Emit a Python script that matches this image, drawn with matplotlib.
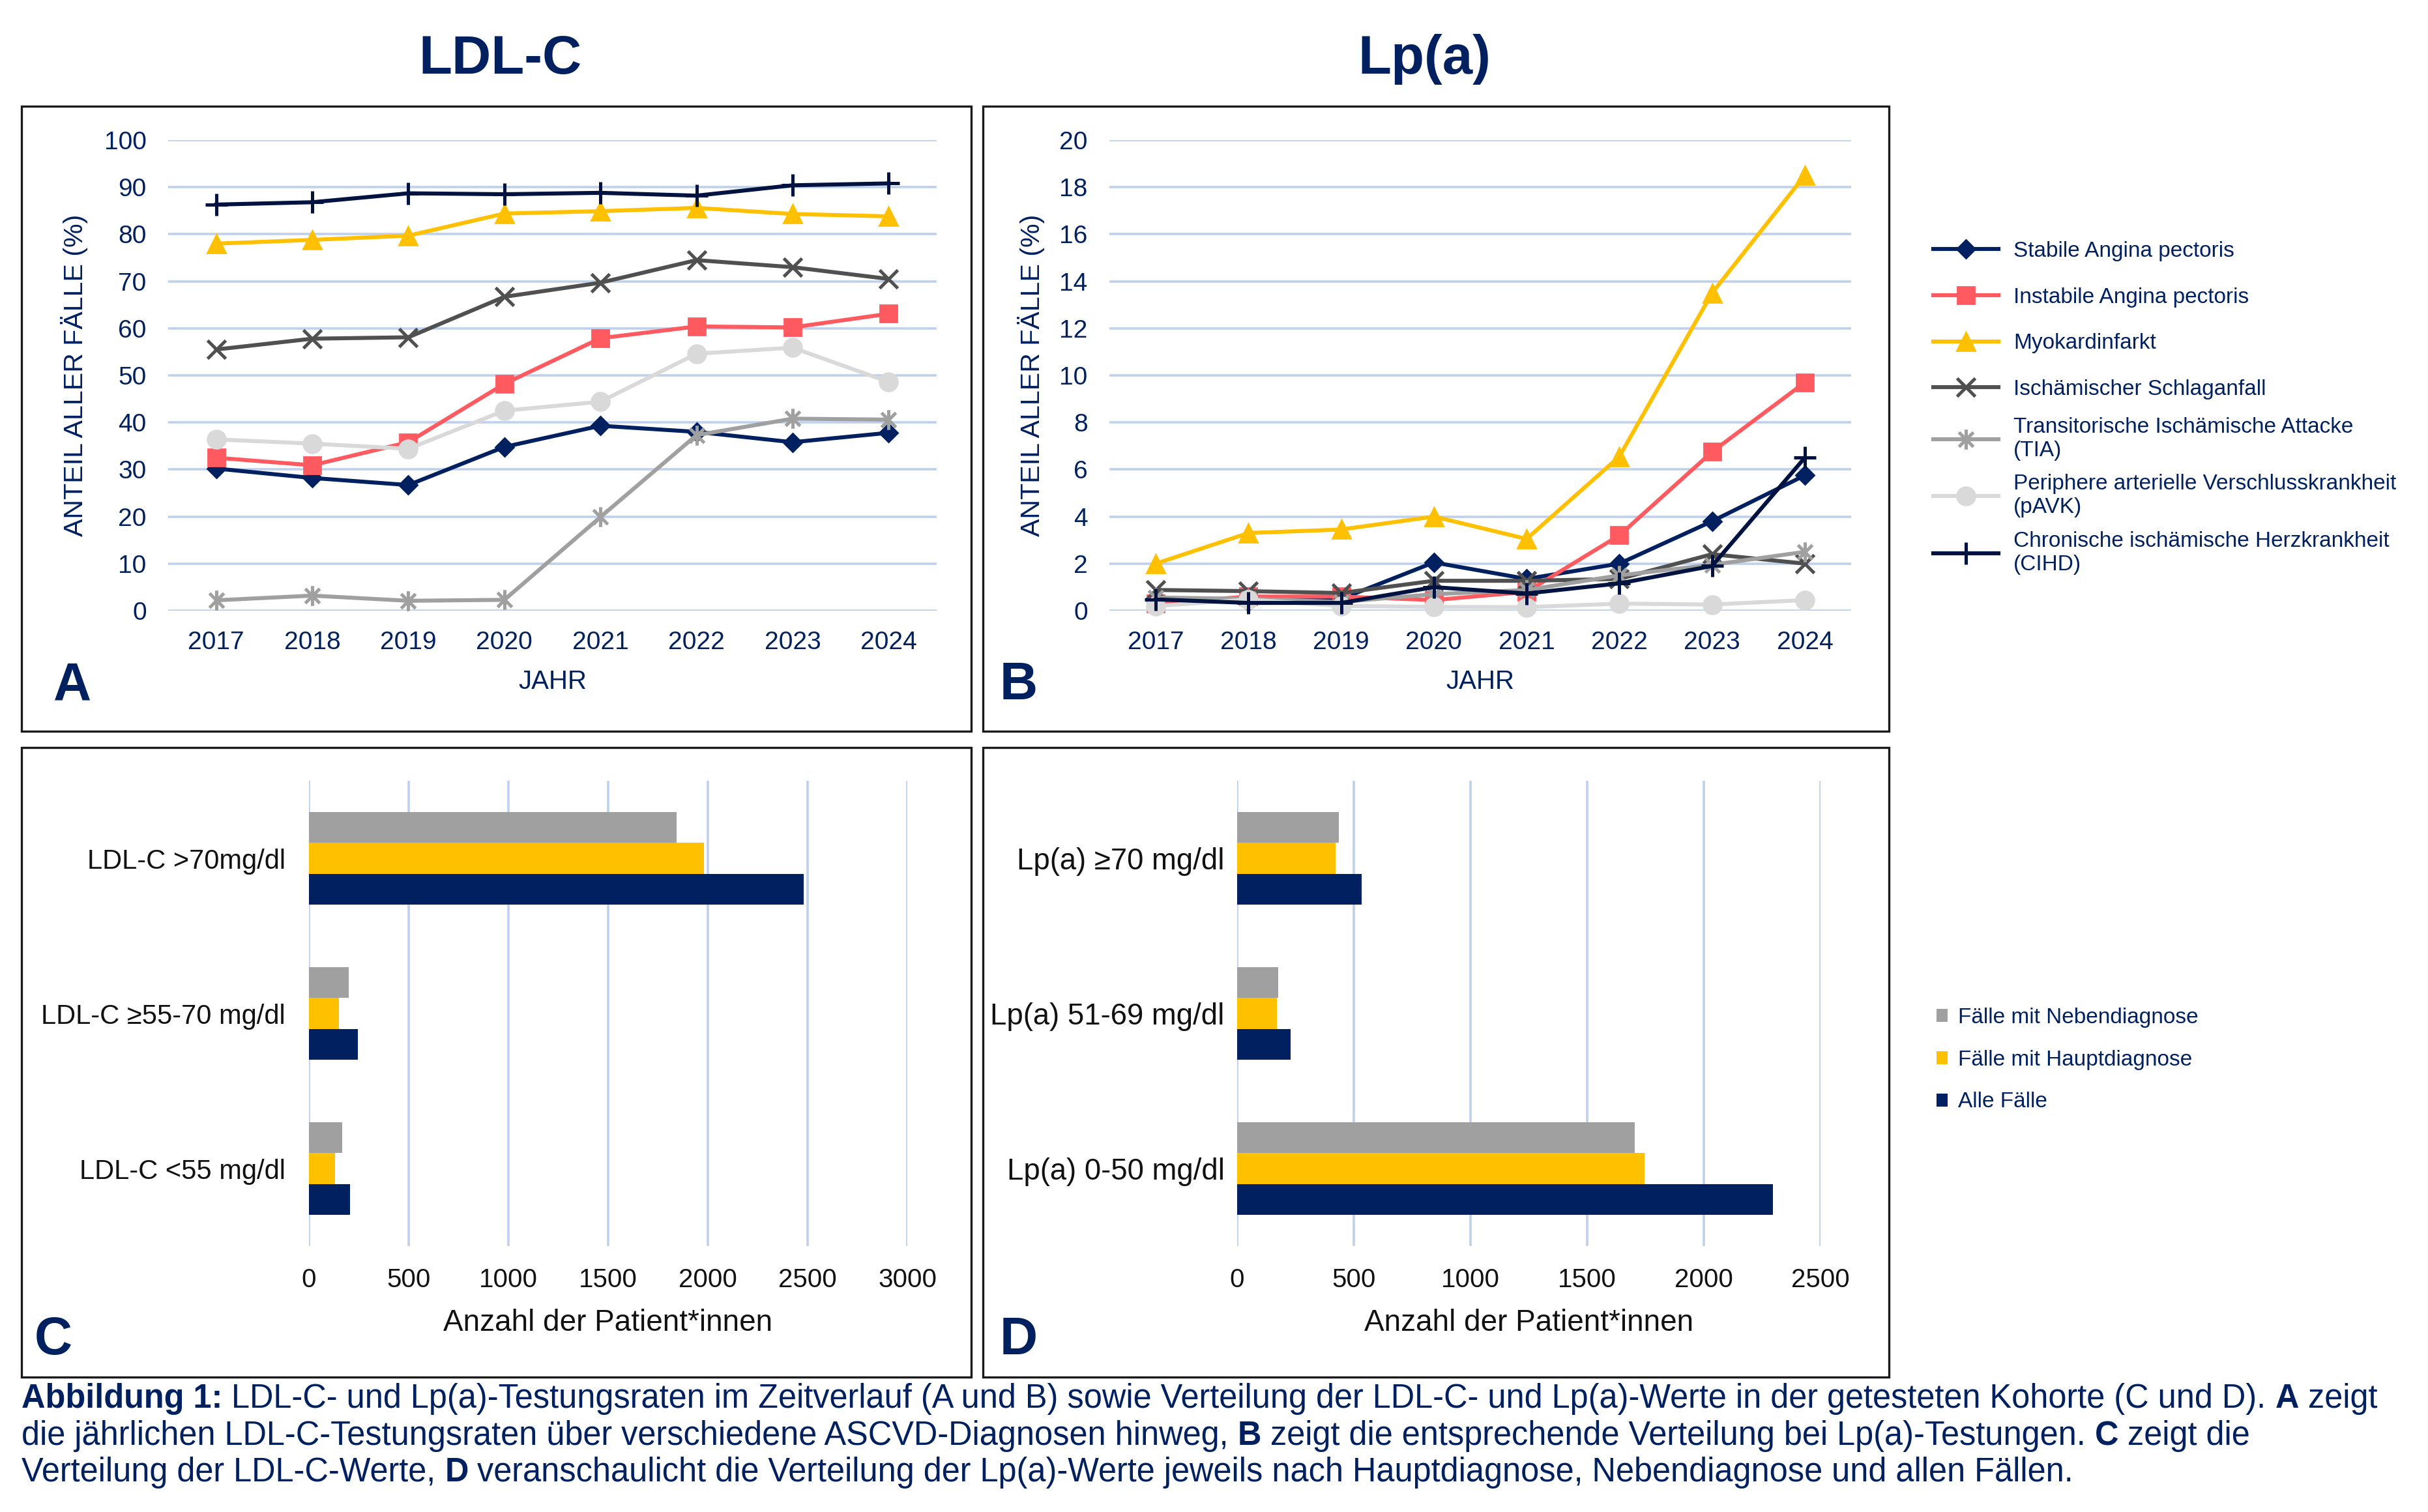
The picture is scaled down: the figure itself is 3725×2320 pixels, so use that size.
import matplotlib
matplotlib.use("Agg")
import matplotlib.pyplot as plt
from matplotlib.path import Path
from matplotlib.patches import Rectangle

plt.rcParams['font.family'] = ['Liberation Sans', 'DejaVu Sans']

NAVY = '#002060'
GRID = '#BFD0EE'

years = ['2017', '2018', '2019', '2020', '2021', '2022', '2023', '2024']
diagnoses = ['Stabile Angina pectoris', 'Instabile Angina pectoris', 'Myokardinfarkt',
             'Ischämischer Schlaganfall', 'Transitorische Ischämische Attacke\n(TIA)',
             'Periphere arterielle Verschlusskrankheit\n(pAVK)',
             'Chronische ischämische Herzkrankheit\n(CIHD)']

# Panel A: LDL-C testing rate (%)
ldl_stabile = [30.2, 28.2, 26.7, 34.8, 39.3, 38.0, 35.8, 37.8]
ldl_instabile = [32.5, 30.9, 35.8, 48.2, 57.9, 60.4, 60.2, 63.1]
ldl_myokard = [78.0, 78.8, 79.7, 84.4, 84.9, 85.6, 84.3, 83.8]
ldl_schlaganfall = [55.5, 57.8, 58.1, 66.7, 69.7, 74.5, 73.0, 70.5]
ldl_tia = [2.2, 3.2, 2.1, 2.3, 19.9, 37.3, 40.8, 40.6]
ldl_pavk = [36.4, 35.5, 34.4, 42.5, 44.4, 54.6, 55.9, 48.6]
ldl_cihd = [86.3, 86.8, 88.7, 88.5, 88.8, 88.2, 90.4, 90.8]

# Panel B: Lp(a) testing rate (%)
lpa_stabile = [0.45, 0.4, 0.5, 2.05, 1.35, 2.0, 3.8, 5.75]
lpa_instabile = [0.3, 0.6, 0.6, 0.45, 0.8, 3.2, 6.75, 9.7]
lpa_myokard = [2.0, 3.3, 3.45, 4.0, 3.05, 6.55, 13.5, 18.5]
lpa_schlaganfall = [0.88, 0.83, 0.75, 1.27, 1.27, 1.35, 2.4, 2.0]
lpa_tia = [0.56, 0.5, 0.37, 0.7, 0.88, 1.5, 1.95, 2.5]
lpa_pavk = [0.2, 0.47, 0.2, 0.16, 0.15, 0.3, 0.26, 0.45]
lpa_cihd = [0.48, 0.33, 0.33, 1.0, 0.73, 1.16, 1.9, 6.5]

# Panel C / D: patient counts
groups = ['Fälle mit Nebendiagnose', 'Fälle mit Hauptdiagnose', 'Alle Fälle']
ldl_cats = ['LDL-C >70mg/dl', 'LDL-C ≥55-70 mg/dl', 'LDL-C <55 mg/dl']
ldl_neben = [1844, 200, 168]
ldl_haupt = [1982, 150, 130]
ldl_alle = [2482, 245, 205]
lpa_cats = ['Lp(a) ≥70 mg/dl', 'Lp(a) 51-69 mg/dl', 'Lp(a) 0-50 mg/dl']
lpa_neben = [435, 177, 1704]
lpa_haupt = [422, 170, 1745]
lpa_alle = [534, 228, 2296]

# excel-like "star" marker: x plus vertical stroke
star = Path([(-0.8, -0.8), (0.8, 0.8), (-0.8, 0.8), (0.8, -0.8), (0, -1.1), (0, 1.1)],
            [Path.MOVETO, Path.LINETO, Path.MOVETO, Path.LINETO, Path.MOVETO, Path.LINETO])

styles = [
    dict(color=NAVY, marker='D', ms=7),
    dict(color='#FF5A60', marker='s', ms=9.5),
    dict(color='#FFC000', marker='^', ms=10),
    dict(color='#505050', marker='x', ms=10, mew=1.8),
    dict(color='#A0A0A0', marker=star, ms=11, mew=1.8),
    dict(color='#D9D9D9', marker='o', ms=10),
    dict(color='#001240', marker='+', ms=12, mew=1.8),
]

W, H = 3725, 2320
fig = plt.figure(figsize=(W / 200, H / 200), dpi=200)


def box(x0, y0, x1, y1):
    return [x0 / W, 1 - y1 / H, (x1 - x0) / W, (y1 - y0) / H]


def line_panel(ax, series, top, step, ylab_x):
    x = range(len(years))
    handles = []
    for vals, st in zip(series, styles):
        h, = ax.plot(x, vals, lw=2.2, mec=st['color'], clip_on=False, **st)
        handles.append(h)
    ax.set_xlim(-0.5, len(years) - 0.5)
    ax.set_ylim(0, top)
    ax.set_yticks(range(0, top + 1, step))
    ax.set_xticks(list(x))
    ax.set_xticklabels(years)
    ax.grid(axis='y', color=GRID, lw=1.3)
    ax.set_axisbelow(True)
    for s in ax.spines.values():
        s.set_visible(False)
    ax.tick_params(length=0, labelsize=14, colors=NAVY)
    ax.tick_params(axis='y', pad=12)
    ax.tick_params(axis='x', pad=11)
    ax.set_ylabel('ANTEIL ALLER FÄLLE (%)', fontsize=14.8, color=NAVY)
    ax.yaxis.set_label_coords(ylab_x, 0.5)
    ax.set_xlabel('JAHR', fontsize=14.5, color=NAVY)
    ax.xaxis.set_label_coords(0.5, -0.125)
    return handles


def bar_panel(ax, cats, neben, haupt, alle, xmax, ypad, ysize):
    y = range(len(cats))
    hgt = 0.2
    bars = []
    for vals, col, off in [(neben, '#A0A0A0', -hgt), (haupt, '#FFC000', 0), (alle, NAVY, hgt)]:
        bars.append(ax.barh([v + off for v in y], vals, height=hgt, color=col))
    ax.set_ylim(len(cats) - 0.5, -0.5)
    ax.set_xlim(0, xmax)
    ax.set_xticks(range(0, xmax + 1, 500))
    ax.set_yticks(list(y))
    ax.set_yticklabels(cats)
    ax.grid(axis='x', color=GRID, lw=1.3)
    ax.set_axisbelow(True)
    for s in ax.spines.values():
        s.set_visible(False)
    ax.tick_params(length=0, colors='#111111')
    ax.tick_params(axis='x', labelsize=14.5, pad=12)
    ax.tick_params(axis='y', labelsize=ysize, pad=ypad)
    ax.set_xlabel('Anzahl der Patient*innen', fontsize=16.5, color='#111111')
    ax.xaxis.set_label_coords(0.5, -0.134)
    return bars


axA = fig.add_axes(box(258, 215, 1437, 937))
hl = line_panel(axA, [ldl_stabile, ldl_instabile, ldl_myokard, ldl_schlaganfall,
                      ldl_tia, ldl_pavk, ldl_cihd], 100, 10, -0.104)
axB = fig.add_axes(box(1702, 215, 2840, 937))
line_panel(axB, [lpa_stabile, lpa_instabile, lpa_myokard, lpa_schlaganfall,
                 lpa_tia, lpa_pavk, lpa_cihd], 20, 2, -0.087)

axC = fig.add_axes(box(474, 1198, 1392, 1912))
bar_panel(axC, ldl_cats, ldl_neben, ldl_haupt, ldl_alle, 3000, 13, 15)
axD = fig.add_axes(box(1898, 1198, 2793, 1912))
hb = bar_panel(axD, lpa_cats, lpa_neben, lpa_haupt, lpa_alle, 2500, 7, 16.4)

# legends
fig.legend(hl[:4], diagnoses[:4], loc='upper left', bbox_to_anchor=(2966 / W, 1 - 370 / H),
           frameon=False, fontsize=12, labelcolor=NAVY, borderpad=0, borderaxespad=0,
           handlelength=3.0, handletextpad=0.7, labelspacing=1.19)
fig.legend(hl[4:], diagnoses[4:], loc='upper left', bbox_to_anchor=(2966 / W, 1 - 640 / H),
           frameon=False, fontsize=12, labelcolor=NAVY, borderpad=0, borderaxespad=0,
           handlelength=3.0, handletextpad=0.7, labelspacing=0.62)
fig.legend(hb, groups, loc='upper left', bbox_to_anchor=(2971 / W, 1 - 1546 / H),
           frameon=False, fontsize=12, labelcolor=NAVY, borderpad=0, borderaxespad=0,
           handlelength=0.5, handleheight=0.55, handletextpad=0.5, labelspacing=1.01)

# panel frames
for x0, y0, x1, y1 in [(33, 163, 1490, 1122), (1508, 163, 2898, 1122),
                       (33, 1147, 1490, 2113), (1508, 1147, 2898, 2113)]:
    fig.patches.append(Rectangle((x0 / W, 1 - y1 / H), (x1 - x0) / W, (y1 - y0) / H,
                                 transform=fig.transFigure, fill=False, lw=1.2,
                                 ec='#1a1a1a'))

# titles and panel letters
fig.text(768 / W, 1 - 113 / H, 'LDL-C', ha='center', va='baseline', fontsize=30,
         fontweight='bold', color=NAVY)
fig.text(2185 / W, 1 - 113 / H, 'Lp(a)', ha='center', va='baseline', fontsize=30,
         fontweight='bold', color=NAVY)
for letter, x, y in [('A', 82, 1073), ('B', 1534, 1073), ('C', 53, 2078), ('D', 1534, 2078)]:
    fig.text(x / W, 1 - y / H, letter, ha='left', va='baseline', fontsize=29,
             fontweight='bold', color=NAVY)

# caption with bold fragments
caption = [
    [('Abbildung 1:', True), ('LDL-C- und Lp(a)-Testungsraten im Zeitverlauf (A und B) sowie '
      'Verteilung der LDL-C- und Lp(a)-Werte in der getesteten Kohorte (C und D).', False),
     ('A', True), ('zeigt', False)],
    [('die jährlichen LDL-C-Testungsraten über verschiedene ASCVD-Diagnosen hinweg,', False),
     ('B', True), ('zeigt die entsprechende Verteilung bei Lp(a)-Testungen.', False),
     ('C', True), ('zeigt die', False)],
    [('Verteilung der LDL-C-Werte,', False), ('D', True),
     ('veranschaulicht die Verteilung der Lp(a)-Werte jeweils nach Hauptdiagnose, '
      'Nebendiagnose und allen Fällen.', False)],
]
cap_size = 18.2
renderer = fig.canvas.get_renderer()
t1 = fig.text(0, 0, 'x x', fontsize=cap_size)
t2 = fig.text(0, 0, 'xx', fontsize=cap_size)
space_w = (t1.get_window_extent(renderer).width - t2.get_window_extent(renderer).width)
t1.remove()
t2.remove()
for row, parts in enumerate(caption):
    xpix = 33
    ybase = [2160, 2217, 2273][row]
    for k, (txt, bold) in enumerate(parts):
        t = fig.text(xpix / W, 1 - ybase / H, txt, fontsize=cap_size, color=NAVY,
                     fontweight='bold' if bold else 'normal', ha='left', va='baseline')
        bb = t.get_window_extent(renderer)
        xpix = bb.x1 + space_w

fig.savefig('out.png', dpi=200)
